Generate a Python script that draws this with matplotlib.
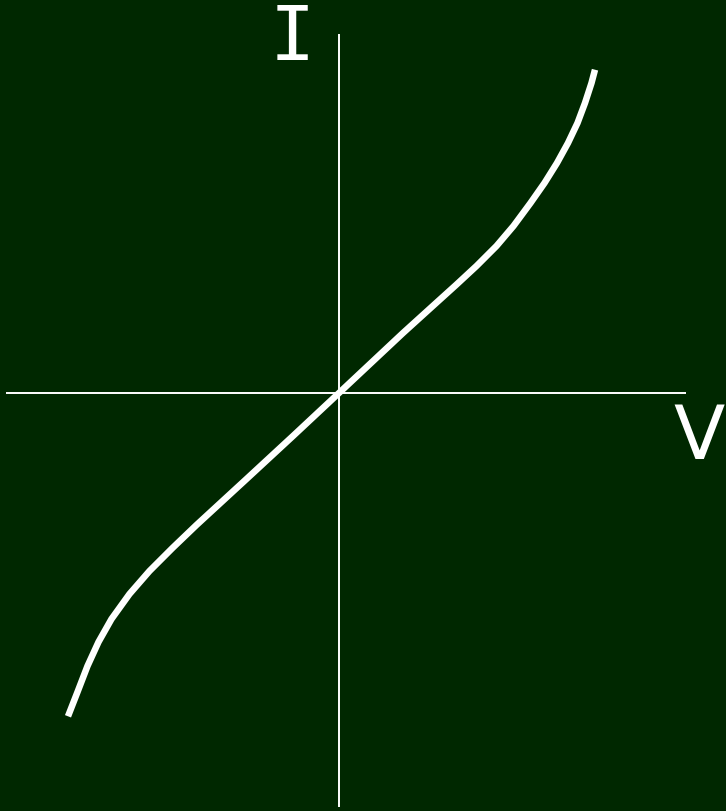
import matplotlib
matplotlib.use("Agg")
import matplotlib.pyplot as plt

# I-V curve points (arbitrary units, origin at centre)
v_vals = [-2.710, -2.615, -2.515, -2.405, -2.275, -2.095, -1.895, -1.665, -1.425,
          -1.175, -0.925, -0.460, 0.0, 0.320, 0.640, 0.960, 1.170, 1.375, 1.575,
          1.745, 1.915, 2.055, 2.180, 2.290, 2.385, 2.460, 2.525, 2.560]
i_vals = [-3.233, -2.990, -2.730, -2.490, -2.260, -2.010, -1.780, -1.550, -1.320,
          -1.090, -0.860, -0.430, 0.0, 0.300, 0.600, 0.890, 1.080, 1.270, 1.470,
          1.670, 1.900, 2.100, 2.300, 2.500, 2.700, 2.900, 3.100, 3.233]

bg = "#002800"
fig = plt.figure(figsize=(7.26, 8.12), dpi=100, facecolor=bg)
ax = fig.add_axes([0, 0, 1, 1])
ax.set_facecolor(bg)
ax.set_xlim(-3.39, 3.87)
ax.set_ylim(-4.18, 3.94)
ax.axis("off")

# axes lines
ax.plot([-3.33, 3.47], [0, 0], color="white", lw=1.4, solid_capstyle="butt")
ax.plot([0, 0], [-4.14, 3.59], color="white", lw=1.4, solid_capstyle="butt")

ax.plot(v_vals, i_vals, color="white", lw=4.7, solid_capstyle="butt",
        solid_joinstyle="round")

ax.text(-0.47, 3.545, "I", color="white", fontsize=54, family="DejaVu Sans Mono",
        ha="center", va="center")
ax.text(3.60, -0.45, "V", color="white", fontsize=54, family="DejaVu Sans",
        ha="center", va="center")

fig.savefig("out.png", dpi=100, facecolor=bg)
